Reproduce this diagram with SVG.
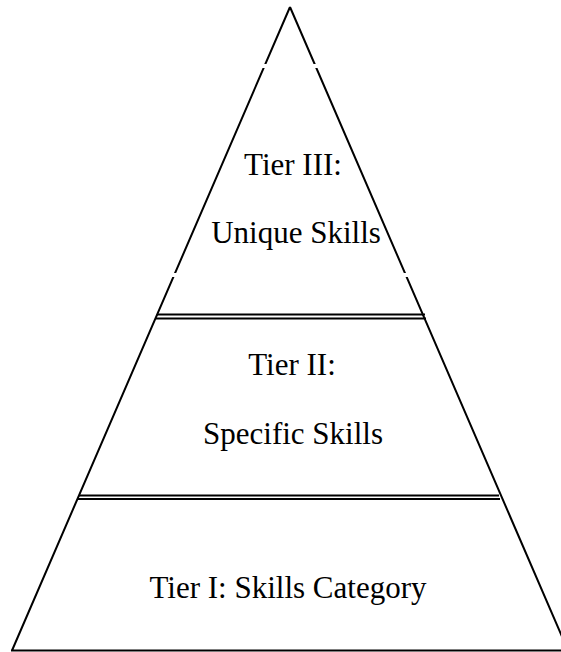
<svg xmlns="http://www.w3.org/2000/svg" width="561" height="652" viewBox="0 0 561 652">
<style>
.edge{stroke:#000;stroke-width:2;fill:none}
.sep{stroke:#000;stroke-width:1.8;fill:none}
.gap{fill:#fff}
text{font-family:"Liberation Serif","Times New Roman",serif;font-size:31px;fill:#000;text-anchor:middle}
</style>
<rect width="561" height="652" fill="#fff"/>
<g id="connectors">
<path class="edge" d="M290,7 L12,650.5 M290,7 L568,650.5 M11,650.5 L561,650.5"/>
<rect class="gap" x="262" y="64" width="8" height="4"/>
<rect class="gap" x="313" y="64" width="8" height="4"/>
<rect class="gap" x="171" y="273" width="8" height="4"/>
<rect class="gap" x="403" y="273" width="8" height="4"/>
</g>
<g id="tier3">
<text x="293" y="175">Tier III:</text>
<text x="296" y="243">Unique Skills</text>
</g>
<g id="sep-top">
<line class="sep" x1="157" y1="314.5" x2="425" y2="314.5"/>
<line class="sep" x1="156" y1="318.5" x2="426" y2="318.5"/>
</g>
<g id="tier2">
<text x="292" y="375">Tier II:</text>
<text x="293" y="444">Specific Skills</text>
</g>
<g id="sep-bottom">
<line class="sep" x1="79" y1="495.5" x2="499" y2="495.5"/>
<line class="sep" x1="78" y1="499" x2="500" y2="499"/>
</g>
<g id="tier1">
<text x="288" y="598">Tier I: Skills Category</text>
</g>
</svg>
